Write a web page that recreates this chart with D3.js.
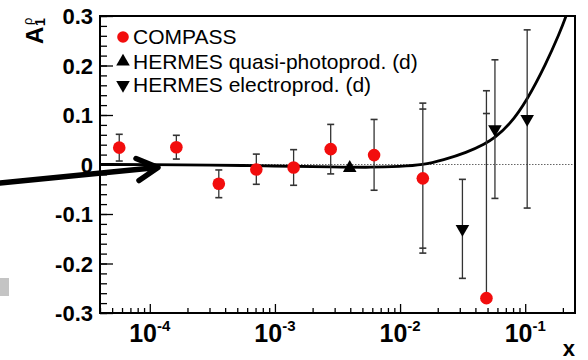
<!DOCTYPE html>
<html><head><meta charset="utf-8">
<script src="https://cdn.jsdelivr.net/npm/d3@7/dist/d3.min.js"></script>
<style>body{margin:0;background:#fff}svg{display:block}text{font-family:"Liberation Sans",Arial,Helvetica,sans-serif}</style>
</head><body>
<script>
// ---- data ----
const compassX   = [5.7e-5, 1.63e-4, 3.56e-4, 7.1e-4, 1.41e-3, 2.79e-3, 6.2e-3, 1.52e-2, 4.9e-2];
const compassA   = [0.034, 0.035, -0.039, -0.010, -0.006, 0.031, 0.019, -0.028, -0.270];
const compassUp  = [0.027, 0.024, 0.028, 0.031, 0.036, 0.050, 0.072, 0.152, 0.419];
const compassDn  = [0.027, 0.024, 0.028, 0.030, 0.036, 0.050, 0.071, 0.151, 0.0];
const compassUpStat = [0.027, 0.024, 0.028, 0.031, 0.036, 0.050, 0.072, 0.140, 0.373];
const compassDnStat = [0.027, 0.024, 0.028, 0.030, 0.036, 0.050, 0.071, 0.141, 0.0];
const quasiX = [3.96e-3];
const quasiA = [-0.007];
const electroX = [0.0315, 0.0573, 0.1037];
const electroA = [-0.130, 0.0715, 0.092];
const electroErr = [0.100, 0.140, 0.180];
const curveX = [4e-5, 1e-4, 3e-4, 1e-3, 3e-3, 6e-3, 1e-2, 0.0152, 0.0221, 0.034, 0.048, 0.057, 0.075, 0.1037, 0.147, 0.188, 0.212, 0.225];
const curveA = [0.0, 0.0, -0.001, -0.003, -0.005, -0.006, -0.004, -0.001, 0.009, 0.024, 0.042, 0.054, 0.080, 0.130, 0.204, 0.265, 0.299, 0.32];
const yTicks = [-0.3, -0.2, -0.1, 0, 0.1, 0.2, 0.3];
const yTickLabels = ["-0.3", "-0.2", "-0.1", "0", "0.1", "0.2", "0.3"];
const xTicks = [1e-4, 1e-3, 1e-2, 1e-1];
const xTickExp = ["-4", "-3", "-2", "-1"];
const legendLabels = ["COMPASS", "HERMES quasi-photoprod. (d)", "HERMES electroprod. (d)"];

// ---- layout ----
const W = 588, H = 360;
const L = 100, R = 575, T = 16, B = 313;
const svg = d3.select("body").append("svg").attr("width", W).attr("height", H);
const x = d3.scaleLog().domain([4e-5, 0.25]).range([L, R]);
const y = d3.scaleLinear().domain([-0.3, 0.3]).range([B, T]);

svg.append("defs").append("clipPath").attr("id", "clip")
  .append("rect").attr("x", L).attr("y", T).attr("width", R - L).attr("height", B - T);

// zero dotted line
svg.append("line").attr("x1", L).attr("x2", R).attr("y1", y(0)).attr("y2", y(0))
  .attr("stroke", "#666").attr("stroke-width", 1).attr("stroke-dasharray", "1.5,1.5");

// axes ticks (inward)
const minorX = [];
for (let e = -5; e <= -1; e++) for (let m = 2; m <= 9; m++) { const v = m * Math.pow(10, e); if (v >= 4e-5 && v <= 0.25) minorX.push(v); }
const minorY = d3.range(-0.3, 0.3001, 0.02).map(v => +v.toFixed(3));

const gx = svg.append("g").attr("transform", `translate(0,${B})`);
gx.call(d3.axisBottom(x).tickValues(minorX).tickSize(-5).tickFormat(""));
gx.append("g").call(d3.axisBottom(x).tickValues(xTicks).tickSize(-9).tickFormat(""));
gx.selectAll("path").remove();
gx.selectAll("line").attr("stroke", "#000").attr("stroke-width", 1.3);

const gy = svg.append("g").attr("transform", `translate(${L},0)`);
gy.call(d3.axisLeft(y).tickValues(minorY).tickSize(-7).tickFormat(""));
gy.append("g").call(d3.axisLeft(y).tickValues(yTicks).tickSize(-13).tickPadding(7)
  .tickFormat((d, i) => yTickLabels[i]));
gy.selectAll("path").remove();
gy.selectAll("line").attr("stroke", "#000").attr("stroke-width", 1.3);
gy.selectAll("text").attr("font-size", 22).attr("font-weight", "bold").attr("fill", "#000")
  .attr("dy", "0.36em");

// x tick labels with superscripts
xTicks.forEach((v, i) => {
  const t = svg.append("text").attr("x", x(v)).attr("y", 342).attr("text-anchor", "middle")
    .attr("font-weight", "bold").attr("fill", "#000");
  t.append("tspan").attr("font-size", 25).text("10");
  t.append("tspan").attr("font-size", 15).attr("dy", -11).text(xTickExp[i]);
});
svg.append("text").attr("x", 575).attr("y", 356).attr("text-anchor", "end")
  .attr("font-size", 22).attr("font-weight", "bold").text("x");

// y title A_1^rho
const yt = svg.append("g").attr("transform", "translate(43,44) rotate(-90)");
yt.append("text").attr("x", 0).attr("y", 0).attr("font-size", 24).attr("font-weight", "bold").text("A");
yt.append("text").attr("x", 18).attr("y", 2).attr("font-size", 14).attr("font-weight", "bold").text("1");
yt.append("text").attr("x", 19).attr("y", -11).attr("font-size", 13).text("ρ");

// plot contents
const plot = svg.append("g").attr("clip-path", "url(#clip)");

// curve
const curvePts = curveX.map((v, i) => [x(v), y(curveA[i])]);
plot.append("path").attr("d", d3.line().curve(d3.curveBasis)(curvePts))
  .attr("fill", "none").attr("stroke", "#000").attr("stroke-width", 2.8);

// error bars
function errBar(cx, lo, hi, color) {
  plot.append("line").attr("x1", cx).attr("x2", cx).attr("y1", y(lo)).attr("y2", y(hi))
    .attr("stroke", color).attr("stroke-width", 1.3);
}
function cap(cx, v, color) {
  plot.append("line").attr("x1", cx - 3.5).attr("x2", cx + 3.5).attr("y1", y(v)).attr("y2", y(v))
    .attr("stroke", color).attr("stroke-width", 1.6);
}
compassX.forEach((v, i) => {
  const cx = x(v);
  errBar(cx, compassA[i] - compassDn[i], compassA[i] + compassUp[i], "#333");
  cap(cx, compassA[i] + compassUp[i], "#333");
  if (compassDn[i] > 0) cap(cx, compassA[i] - compassDn[i], "#333");
  if (compassUpStat[i] !== compassUp[i]) cap(cx, compassA[i] + compassUpStat[i], "#333");
  if (compassDnStat[i] !== compassDn[i] && compassDnStat[i] > 0) cap(cx, compassA[i] - compassDnStat[i], "#333");
});
electroX.forEach((v, i) => {
  const cx = x(v);
  errBar(cx, electroA[i] - electroErr[i], electroA[i] + electroErr[i], "#333");
  cap(cx, electroA[i] + electroErr[i], "#333");
  cap(cx, electroA[i] - electroErr[i], "#333");
});

// markers
const triUp = d3.symbol().type(d3.symbolTriangle).size(80);
plot.selectAll("circle.c").data(compassX).join("circle")
  .attr("cx", d => x(d)).attr("cy", (d, i) => y(compassA[i])).attr("r", 6.3).attr("fill", "#f20d0d");
plot.selectAll("path.q").data(quasiX).join("path").attr("class", "q")
  .attr("d", triUp).attr("transform", (d, i) => `translate(${x(d)},${y(quasiA[i])})`).attr("fill", "#000");
plot.selectAll("path.e").data(electroX).join("path").attr("class", "e")
  .attr("d", triUp).attr("transform", (d, i) => `translate(${x(d)},${y(electroA[i])}) rotate(180)`).attr("fill", "#000");

// frame
svg.append("rect").attr("x", L).attr("y", T).attr("width", R - L).attr("height", B - T)
  .attr("fill", "none").attr("stroke", "#000").attr("stroke-width", 2);

// legend
const lg = svg.append("g");
const rows = [37, 61.5, 85];
lg.append("circle").attr("cx", 123).attr("cy", rows[0]).attr("r", 5.8).attr("fill", "#f20d0d");
lg.append("path").attr("d", triUp).attr("transform", `translate(123,${rows[1]})`).attr("fill", "#000");
lg.append("path").attr("d", triUp).attr("transform", `translate(123,${rows[2]}) rotate(180)`).attr("fill", "#000");
legendLabels.forEach((s, i) => {
  lg.append("text").attr("x", 133).attr("y", rows[i] + 7).attr("font-size", 21).attr("fill", "#000").text(s);
});

// annotation arrow and grey box
svg.append("path").attr("d", "M0,183 L157,167.5 M136,158.5 L158,167.5 L139,180.5")
  .attr("fill", "none").attr("stroke", "#000").attr("stroke-width", 5.5)
  .attr("stroke-linejoin", "round").attr("stroke-linecap", "round");
svg.append("rect").attr("x", 0).attr("y", 278).attr("width", 9).attr("height", 18).attr("fill", "#c4c4c4");
</script>
</body></html>
